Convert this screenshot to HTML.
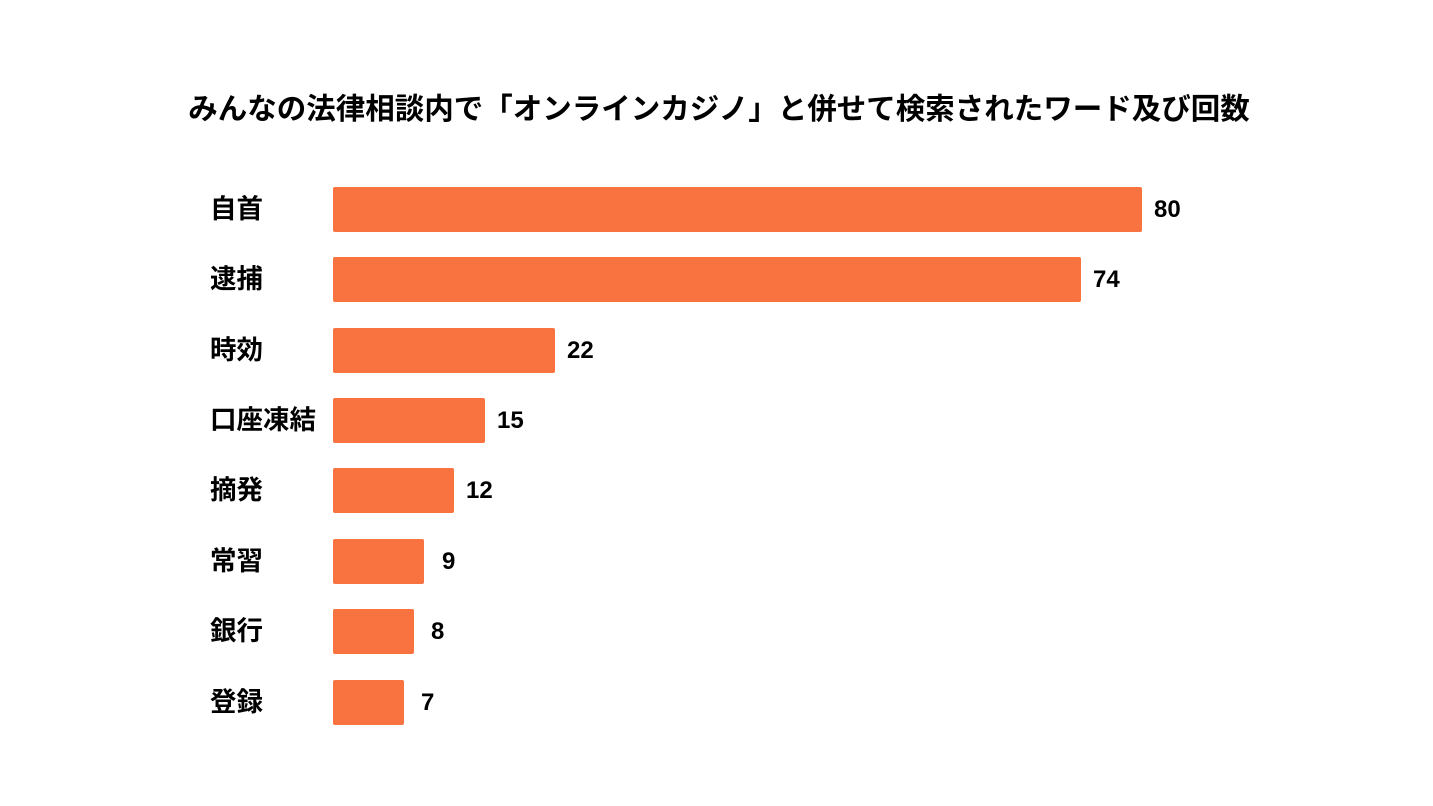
<!DOCTYPE html>
<html><head><meta charset="utf-8"><style>
body{margin:0;width:1433px;height:806px;background:#fff;position:relative;overflow:hidden;font-family:"Liberation Sans","Noto Sans CJK JP",sans-serif;font-weight:bold;color:#000}
.t{position:absolute;left:0;width:1438px;text-align:center;top:86px;font-size:29.5px;white-space:nowrap}
.l{position:absolute;left:210px;font-size:26.5px;line-height:45px}
.b{position:absolute;left:333px;height:45px;background:#F97340;border-radius:2px}
.v{position:absolute;font-size:24px;line-height:45px}
</style></head><body>
<div class="t">みんなの法律相談内で「オンラインカジノ」と併せて検索されたワード及び回数</div>
<div class="l" style="top:187px">自首</div><div class="b" style="top:187px;width:809px"></div><div class="v" style="top:187px;left:1154px">80</div>
<div class="l" style="top:257px">逮捕</div><div class="b" style="top:257px;width:748px"></div><div class="v" style="top:257px;left:1093px">74</div>
<div class="l" style="top:328px">時効</div><div class="b" style="top:328px;width:222px"></div><div class="v" style="top:328px;left:567px">22</div>
<div class="l" style="top:398px">口座凍結</div><div class="b" style="top:398px;width:152px"></div><div class="v" style="top:398px;left:497px">15</div>
<div class="l" style="top:468px">摘発</div><div class="b" style="top:468px;width:121px"></div><div class="v" style="top:468px;left:466px">12</div>
<div class="l" style="top:539px">常習</div><div class="b" style="top:539px;width:91px"></div><div class="v" style="top:539px;left:442px">9</div>
<div class="l" style="top:609px">銀行</div><div class="b" style="top:609px;width:81px"></div><div class="v" style="top:609px;left:431px">8</div>
<div class="l" style="top:680px">登録</div><div class="b" style="top:680px;width:71px"></div><div class="v" style="top:680px;left:421px">7</div>
</body></html>
